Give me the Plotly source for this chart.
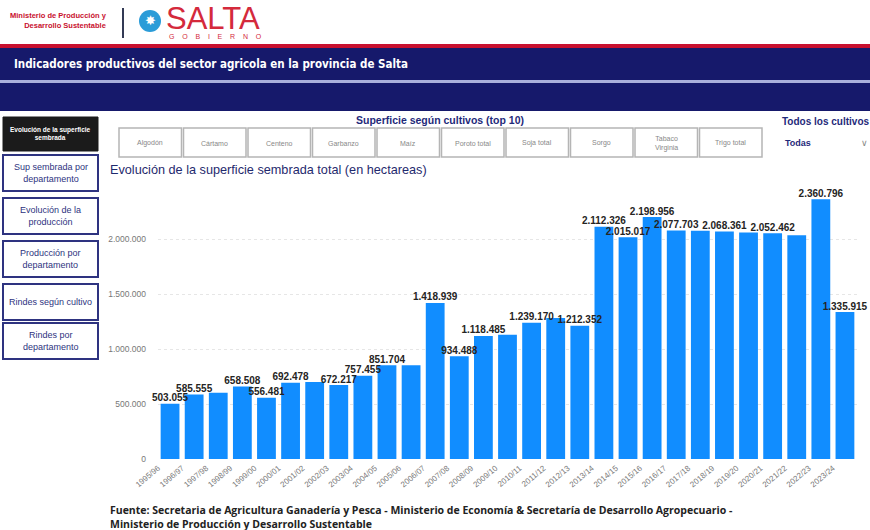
import plotly.graph_objects as go

# ---------------- data ----------------
campaigns = ["1995/96", "1996/97", "1997/98", "1998/99", "1999/00", "2000/01", "2001/02",
             "2002/03", "2003/04", "2004/05", "2005/06", "2006/07", "2007/08", "2008/09",
             "2009/10", "2010/11", "2011/12", "2012/13", "2013/14", "2014/15", "2015/16",
             "2016/17", "2017/18", "2018/19", "2019/20", "2020/21", "2021/22", "2022/23",
             "2023/24"]
hectares = [503055, 585555, 603000, 658508, 556481, 692478, 700000,
            672217, 757455, 851704, 853000, 1418939, 934488, 1118485,
            1130000, 1239170, 1282000, 1212352, 2112326, 2015017, 2198956,
            2077703, 2075000, 2068361, 2058000, 2052462, 2035000, 2360796,
            1335915]
label_shown = [True, True, False, True, True, True, False,
               True, True, True, False, True, True, True,
               False, True, False, True, True, True, True,
               True, False, True, False, True, False, True,
               True]
y_ticks = [0, 500000, 1000000, 1500000, 2000000]
crop_buttons = ["Algodón", "Cártamo", "Centeno", "Garbanzo", "Maíz", "Poroto total",
                "Soja total", "Sorgo", "Tabaco<br>Virginia", "Trigo total"]
nav_buttons = ["Sup sembrada por<br>departamento", "Evolución de la<br>producción",
               "Producción por<br>departamento", "Rindes según cultivo",
               "Rindes por<br>departamento"]

W, H = 870, 530


def px(x):
    return x / W


def py(y):
    return 1 - y / H


def fmt(v):
    return f"{v:,}".replace(",", ".")


labels = [fmt(v) if s else "" for v, s in zip(hectares, label_shown)]

NAVY = "#16196b"
RED = "#c8102e"
FONT = "Liberation Sans, Arial, sans-serif"

fig = go.Figure()
fig.add_trace(go.Bar(
    x=campaigns, y=hectares, marker_color="#118DFF", marker_line_width=0,
    hoverinfo="x+y",
))
fig.add_trace(go.Scatter(
    x=campaigns, y=hectares, mode="text", text=labels, textposition="top center",
    cliponaxis=False, hoverinfo="skip",
    textfont=dict(family=FONT, size=10, color="#252423", weight="bold"),
))

shapes = []
ann = []


def A(**kw):
    kw.setdefault("xref", "paper")
    kw.setdefault("yref", "paper")
    kw.setdefault("showarrow", False)
    ann.append(kw)


# header bands
shapes.append(dict(type="rect", xref="paper", yref="paper", x0=0, x1=1, y0=py(48), y1=py(44),
                   fillcolor=RED, line_width=0, layer="below"))
shapes.append(dict(type="rect", xref="paper", yref="paper", x0=0, x1=1, y0=py(80), y1=py(48),
                   fillcolor=NAVY, line_width=0, layer="below"))
shapes.append(dict(type="rect", xref="paper", yref="paper", x0=0, x1=1, y0=py(83), y1=py(80),
                   fillcolor="#aab0dc", line_width=0, layer="below"))
shapes.append(dict(type="rect", xref="paper", yref="paper", x0=0, x1=1, y0=py(111), y1=py(83),
                   fillcolor=NAVY, line_width=0, layer="below"))
A(text="<b>Indicadores productivos del sector agricola en la provincia de Salta</b>",
  x=px(12), y=py(64), xanchor="left", yanchor="middle",
  font=dict(family="Liberation Sans Narrow, DejaVu Sans Condensed, Liberation Sans", size=11.5,
            color="white"))

# logo area
A(text="<b>Ministerio de Producción y<br>Desarrollo Sustentable</b>", x=px(109), y=py(21),
  xanchor="right", yanchor="middle", align="right",
  font=dict(family=FONT, size=7.5, color=RED))
shapes.append(dict(type="line", xref="paper", yref="paper", x0=px(123), x1=px(123), y0=py(38), y1=py(8),
                   line=dict(color="#333a55", width=2)))
shapes.append(dict(type="circle", xref="paper", yref="paper", x0=px(139), x1=px(161), y0=py(32), y1=py(10),
                   fillcolor="#2b9cd8", line_width=0))
A(text="✸", x=px(150), y=py(21), xanchor="center", yanchor="middle",
  font=dict(family="DejaVu Sans", size=13, color="white"))
A(text="SALTA", x=px(164), y=py(19), xanchor="left", yanchor="middle",
  font=dict(family="Liberation Sans, Arial", size=31, color="#d42a3c"))
A(text="G    O    B    I    E    R    N    O", x=px(215), y=py(37), xanchor="center", yanchor="middle",
  font=dict(family=FONT, size=7, color="#d42a3c"))

# left nav: active button
shapes.append(dict(type="rect", xref="paper", yref="paper", x0=px(3), x1=px(98), y0=py(151), y1=py(117),
                   fillcolor="#1b1b1b", line=dict(color="#1b1b1b", width=1)))
A(text="<b>Evolución de la superficie<br>sembrada</b>", x=px(50.5), y=py(134),
  xanchor="center", yanchor="middle", align="center",
  font=dict(family=FONT, size=6.5, color="white"))
nav_tops = [155, 198, 241, 284, 323]
for t, lab in zip(nav_tops, nav_buttons):
    shapes.append(dict(type="rect", xref="paper", yref="paper", x0=px(3), x1=px(98), y0=py(t + 36), y1=py(t),
                       fillcolor="white", line=dict(color="#2e3380", width=2)))
    A(text=lab, x=px(50.5), y=py(t + 18), xanchor="center", yanchor="middle", align="center",
      font=dict(family=FONT, size=9, color="#2e3380"))

# crop slicer
A(text="<b>Superficie según cultivos (top 10)</b>", x=px(440), y=py(120),
  xanchor="center", yanchor="middle",
  font=dict(family=FONT, size=10.5, color="#1f2a7a"))
bx0, bw = 118, 64.5
for i, lab in enumerate(crop_buttons):
    x0 = bx0 + i * bw
    shapes.append(dict(type="rect", xref="paper", yref="paper", x0=px(x0 + 1), x1=px(x0 + bw - 1),
                       y0=py(157), y1=py(128), fillcolor="white", line=dict(color="#b5b5b5", width=1.5)))
    A(text=lab, x=px(x0 + bw / 2), y=py(143), xanchor="center", yanchor="middle", align="center",
      font=dict(family=FONT, size=7, color="#888888"))

A(text="<b>Todos los cultivos</b>", x=px(780), y=py(122), xanchor="left", yanchor="middle",
  font=dict(family=FONT, size=10, color="#1f2a7a"))
A(text="<b>Todas</b>", x=px(783), y=py(143), xanchor="left", yanchor="middle",
  font=dict(family=FONT, size=9, color="#1f2a7a"))
A(text="∨", x=px(864), y=py(143), xanchor="center", yanchor="middle",
  font=dict(family="DejaVu Sans", size=9, color="#888888"))

# chart title
A(text="Evolución de la superficie sembrada total (en hectareas)", x=px(108), y=py(170),
  xanchor="left", yanchor="middle",
  font=dict(family=FONT, size=12.7, color="#1f2a6e"))

# footer
A(text="<b>Fuente: Secretaria de Agricultura Ganadería y Pesca - Ministerio de Economía & "
       "Secretaría de Desarrollo Agropecuario -<br>Ministerio de Producción y Desarrollo Sustentable</b>",
  x=px(108), y=py(517), xanchor="left", yanchor="middle", align="left",
  font=dict(family="Open Sans, Liberation Sans", size=10.5, color="#222222"))

fig.update_layout(
    width=W, height=H, margin=dict(l=0, r=0, t=0, b=0, autoexpand=False),
    paper_bgcolor="white", plot_bgcolor="white",
    separators=",.", showlegend=False, bargap=0.22,
    shapes=shapes, annotations=ann,
    xaxis=dict(domain=[px(158), px(857)], range=[-0.5, len(campaigns) - 0.5],
               tickangle=-40, showgrid=False, showline=False, ticks="",
               ticklabelshift=-12, ticklabelstandoff=2,
               tickfont=dict(family=FONT, size=8, color="#777777"), fixedrange=True, automargin=False),
    yaxis=dict(domain=[py(459), py(184)], range=[0, 2500000], tickvals=y_ticks, tickformat=",d",
               showgrid=True, gridcolor="#e6e6e6", griddash="dot", zeroline=False, showline=False,
               ticklabelstandoff=11,
               tickfont=dict(family=FONT, size=8.5, color="#777777"), ticks="", fixedrange=True,
               automargin=False),
)

fig.write_html("out.html", post_script="document.body.style.margin='0px';",
               config={"displayModeBar": False})
